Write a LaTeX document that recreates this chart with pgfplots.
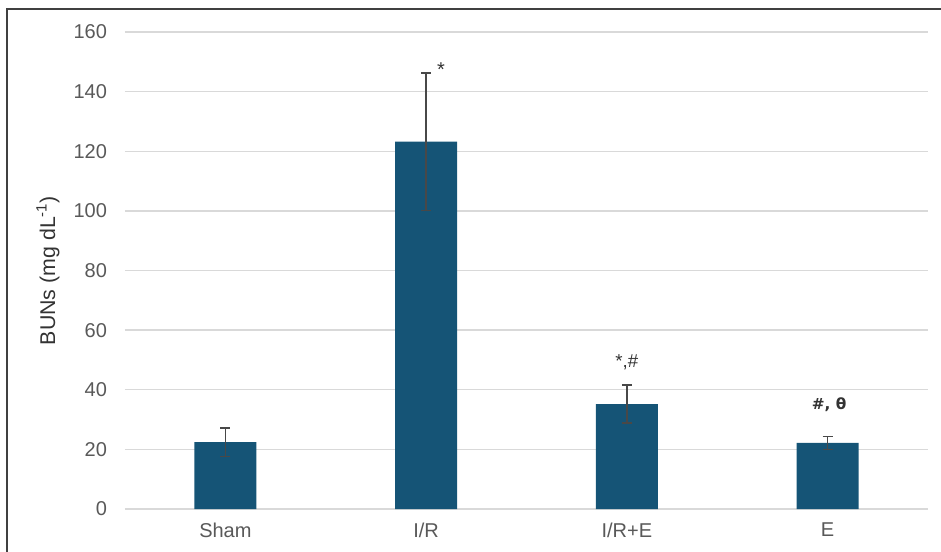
\documentclass[border=0pt]{standalone}
\usepackage{pgfplots}
\pgfplotsset{compat=1.18}
\usepackage{fontspec}
\setmainfont{Liberation Sans}[BoldFont={Liberation Sans Bold}]
\newfontfamily\symbfont{DejaVu Sans}[BoldFont={DejaVu Sans Bold}]

\definecolor{barblue}{HTML}{155476}
\definecolor{gridgray}{HTML}{D9D9D9}
\definecolor{textgray}{HTML}{595959}
\definecolor{errgray}{HTML}{484848}

\pgfplotstableread{
x  y      err
0  22.4   4.8
1  123.2  23.0
2  35.2   6.4
3  22.2   2.2
}\bundata

\begin{document}
\begin{tikzpicture}[x=1pt,y=1pt]
% page extent and frame
\path[use as bounding box] (-93.75,-31.5) rectangle (612,381.75);
\draw[color=black!75, line width=0.9pt] (-88.5,-40) -- (-88.5,375) -- (620,375);
\begin{axis}[
  at={(0,0)}, anchor=south west,
  scale only axis,
  width=602.25pt, height=357.75pt,
  xmin=-0.5, xmax=3.5,
  ymin=0, ymax=160,
  ytick={0,20,...,160},
  xtick={0,1,2,3},
  xticklabels={Sham, I/R, I/R+E, E},
  axis line style={draw=none},
  major tick length=0pt,
  ymajorgrids,
  grid style={gridgray, line width=1.1pt},
  tick label style={font=\fontsize{15}{17}\selectfont, text=textgray},
  /pgf/number format/assume math mode=true,
  yticklabel style={xshift=-10pt},
  xticklabel style={yshift=-7pt},
  ylabel={BUNs (mg dL\textsuperscript{-1})},
  ylabel style={at={(axis description cs:-0.0959,0.5)}, anchor=center,
    font=\fontsize{16}{18}\selectfont, text=black!80},
  clip=false,
]
\addplot[ybar, bar width=46.5pt, fill=barblue, draw=none,
  error bars/.cd, y dir=both, y explicit,
  error bar style={errgray, line width=1.1pt},
  error mark options={errgray, line width=1.1pt, rotate=90, mark size=3.8pt}]
  table[x=x, y=y, y error=err] {\bundata};
\node[font=\fontsize{15}{16}\selectfont, text=black!80] at (axis cs:1.074,147.5) {*};
\node[font=\fontsize{14}{16}\selectfont, text=black!80] at (axis cs:2.0,49.3) {*,\#};
\node[font=\symbfont\bfseries\fontsize{11.5}{14}\selectfont, text=black!80] at (axis cs:3.007,34.9) {\#, θ};
\end{axis}
\end{tikzpicture}
\end{document}
